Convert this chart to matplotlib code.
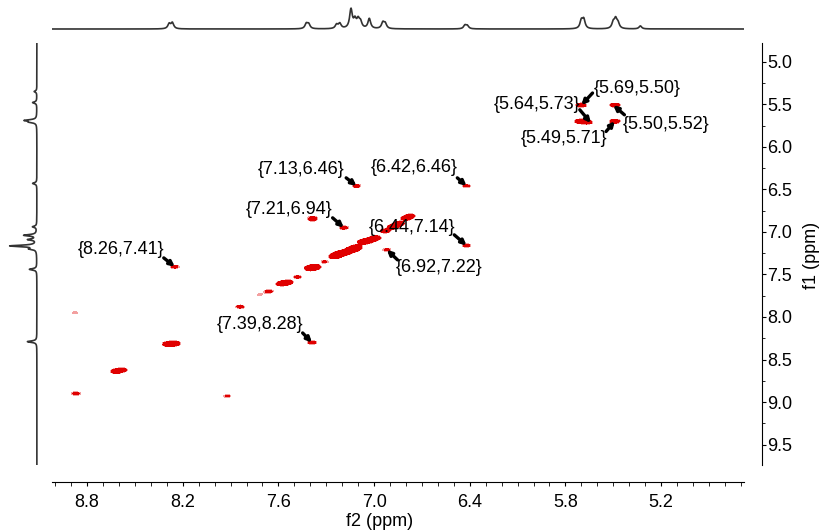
import numpy as np
import matplotlib.pyplot as plt
from matplotlib.ticker import FixedLocator, MultipleLocator

plt.rcParams["font.family"] = ["Liberation Sans", "DejaVu Sans"]
plt.rcParams["font.size"] = 13

# 1D projection on top (f2): peak position (ppm) and height
top_ppm = [8.285, 8.265, 7.425, 7.41, 7.235, 7.215, 7.145, 7.12, 7.10, 7.085,
           7.03, 6.945, 6.93, 6.43, 6.415, 5.70, 5.685, 5.50, 5.485, 5.47, 5.33]
top_height = [5, 6, 5, 4.5, 4, 5, 19, 8, 8, 6,
              10, 6, 5, 3.5, 3, 8, 9, 6, 9, 5, 3]

# 1D projection on the left (f1)
left_ppm = [5.35, 5.48, 5.69, 5.71, 6.43, 6.94, 7.04, 7.09, 7.165, 7.20, 7.44, 8.29]
left_height = [2.5, 4, 11, 6, 4, 4, 12, 8, 25, 6, 7, 9]

# 2D correlation peaks (f2, f1, intensity)
peak_f2 = [8.87, 8.62, 8.58, 8.29, 8.25, 7.92, 7.84, 7.66, 7.58, 7.54, 7.48,
           7.40, 7.37, 7.31, 7.25, 7.22, 7.18, 7.14, 7.11, 7.07, 7.03, 6.99,
           6.93, 6.88, 6.84, 6.80, 6.77,
           8.25, 7.39, 7.11, 6.42, 7.19, 6.42, 6.92,
           5.70, 5.71, 5.66, 5.49, 5.49,
           7.385, 7.385, 8.876, 7.72]
peak_f1 = [8.90, 8.64, 8.62, 8.32, 8.31, 8.93, 7.88, 7.70, 7.61, 7.59, 7.53,
           7.43, 7.41, 7.35, 7.29, 7.26, 7.24, 7.21, 7.18, 7.12, 7.10, 7.07,
           6.99, 6.94, 6.90, 6.84, 6.81,
           7.41, 8.30, 6.46, 6.46, 6.95, 7.16, 7.21,
           5.51, 5.70, 5.71, 5.51, 5.70,
           6.83, 6.86, 7.95, 7.74]
peak_amp = [1.3, 1.6, 1.4, 2.0, 1.8, 1.1, 1.3, 1.3, 1.8, 1.6, 1.2,
            2.0, 1.8, 1.1, 1.8, 2.0, 1.8, 2.2, 1.8, 1.8, 1.6, 1.8,
            1.6, 1.8, 1.6, 1.5, 1.3,
            1.3, 1.4, 1.3, 1.2, 1.4, 1.3, 1.2,
            1.7, 1.7, 1.5, 1.6, 1.7,
            0.95, 0.95, 0.95, 0.9]

# labelled cross peaks
label_text = ["{8.26,7.41}", "{7.39,8.28}", "{7.13,6.46}", "{6.42,6.46}",
              "{7.21,6.94}", "{6.44,7.14}", "{6.92,7.22}",
              "{5.69,5.50}", "{5.64,5.73}", "{5.49,5.71}", "{5.50,5.52}"]
label_f2 = [8.25, 7.39, 7.11, 6.42, 7.19, 6.42, 6.92, 5.70, 5.64, 5.49, 5.50]
label_f1 = [7.41, 8.30, 6.46, 6.46, 6.95, 7.16, 7.21, 5.51, 5.72, 5.70, 5.51]

# layout: text centre and arrow start (ppm)
text_pos = [(8.584, 7.212), (7.718, 8.094), (7.456, 6.271), (6.747, 6.247),
            (7.53, 6.741), (6.76, 6.953), (6.59, 7.424),
            (5.349, 5.309), (5.977, 5.506), (5.808, 5.898), (5.171, 5.741)]
arrow_start = [(8.319, 7.306), (7.448, 8.188), (7.175, 6.365), (6.478, 6.365),
               (7.26, 6.835), (6.497, 7.035), (6.853, 7.329),
               (5.63, 5.368), (5.71, 5.565), (5.545, 5.82), (5.43, 5.624)]

x_ticks = [8.8, 8.2, 7.6, 7.0, 6.4, 5.8, 5.2]
xlim = (9.02, 4.68)
ylim = (9.74, 4.78)

W, H = 822, 531
fig = plt.figure(figsize=(W / 100, H / 100), dpi=100)

def px_axes(x0, y0, x1, y1):
    return [x0 / W, 1 - y1 / H, (x1 - x0) / W, (y1 - y0) / H]

ax = fig.add_axes(px_axes(52, 43, 744, 465))

# 2D map
gx = np.linspace(4.6, 9.1, 1200)
gy = np.linspace(4.7, 9.8, 800)
X, Y = np.meshgrid(gx, gy)
Z = np.zeros_like(X)
for x0, y0, a in zip(peak_f2, peak_f1, peak_amp):
    Z += a * np.exp(-((X - x0) ** 2 / (2 * 0.028 ** 2) + (Y - y0) ** 2 / (2 * 0.021 ** 2)))
ax.contourf(X, Y, Z, levels=[0.8, 1.0, 100], colors=["#f3a0a0", "#e00000"])

for txt, f2, f1, tp, st in zip(label_text, label_f2, label_f1, text_pos, arrow_start):
    ax.text(tp[0], tp[1], txt, ha="center", va="center", fontsize=13)
    ax.annotate("", xy=(f2, f1), xytext=st,
                arrowprops=dict(arrowstyle="-|>", color="black", lw=2.4,
                                mutation_scale=7, shrinkA=0, shrinkB=0))

ax.set_xlim(*xlim)
ax.set_ylim(*ylim)
for s in ["top", "left"]:
    ax.spines[s].set_visible(False)
ax.spines["right"].set_position(("outward", 13))
ax.spines["bottom"].set_position(("outward", 12))

ax.xaxis.set_major_locator(FixedLocator(x_ticks))
ax.xaxis.set_minor_locator(MultipleLocator(0.1))
ax.yaxis.set_major_locator(MultipleLocator(0.5))
ax.yaxis.set_minor_locator(MultipleLocator(0.25))
ax.yaxis.tick_right()
ax.tick_params(axis="x", which="both", direction="out", length=3, pad=6, labelsize=13)
ax.tick_params(axis="y", which="major", direction="out", length=3, pad=1, labelsize=13)
ax.tick_params(axis="y", which="minor", direction="out", length=2)

fig.text(380 / W, 1 - 521 / H, "f2 (ppm)", ha="center", va="center", fontsize=13)
fig.text(811 / W, 1 - 255 / H, "f1 (ppm)", ha="center", va="center",
         rotation=90, fontsize=13)

# projections
def lorentz(grid, pos, hts, w):
    out = np.zeros_like(grid)
    for p, h in zip(pos, hts):
        out += h * w ** 2 / ((grid - p) ** 2 + w ** 2)
    return out

ax_top = fig.add_axes(px_axes(52, 3, 744, 31))
tx = np.linspace(xlim[1], xlim[0], 2000)
ax_top.plot(tx, lorentz(tx, top_ppm, top_height, 0.01), color="#333333", lw=1.2)
ax_top.set_xlim(*xlim)
ax_top.set_ylim(-2, 26)
ax_top.axis("off")

ax_left = fig.add_axes(px_axes(5, 43, 39, 465))
ly = np.linspace(ylim[1], ylim[0], 2000)
ax_left.plot(lorentz(ly, left_ppm, left_height, 0.01), ly, color="#333333", lw=1.2)
ax_left.set_ylim(*ylim)
ax_left.set_xlim(30, -2)
ax_left.axis("off")

fig.savefig("out.png", dpi=100)
